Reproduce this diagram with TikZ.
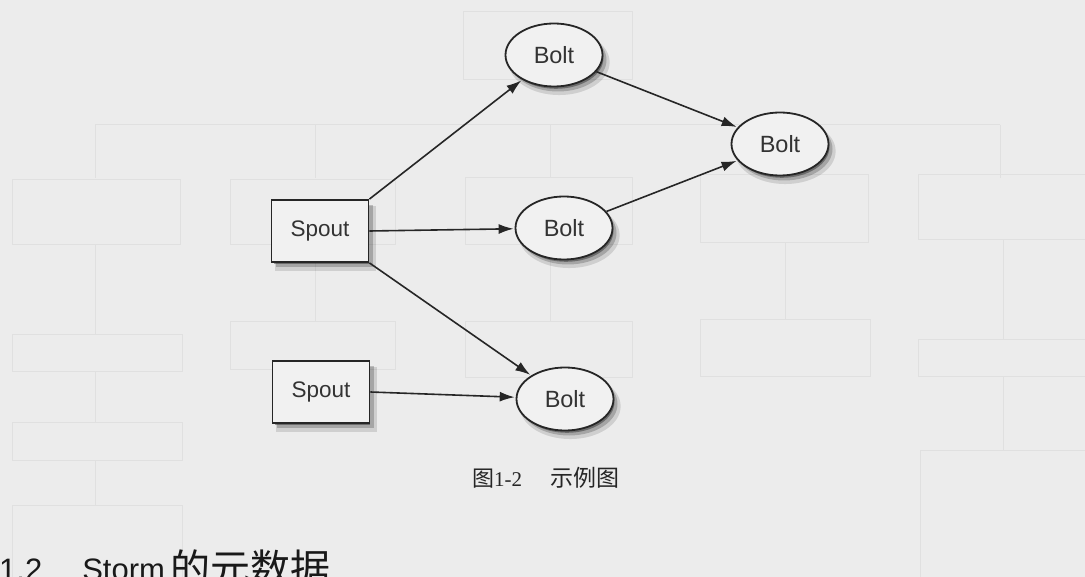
\documentclass[tikz,border=0pt]{standalone}
\usepackage{fontspec}
\setmainfont{Liberation Sans}
\newfontfamily\cjk{Noto Sans CJK SC}
\newfontfamily\serifnum{Liberation Serif}
\usetikzlibrary{shapes.geometric,shadows,arrows.meta}
\definecolor{paper}{gray}{0.925}
\definecolor{ghost}{gray}{0.88}
\definecolor{shapefill}{gray}{0.945}
\tikzset{
  ghostbox/.style={draw=ghost, line width=1pt},
  ghostline/.style={draw=ghost, line width=1pt},
  shd/.style={
    drop shadow={shadow xshift=5pt, shadow yshift=-7pt, opacity=0.12, fill=black, shadow scale=1.04},
    drop shadow={shadow xshift=4pt, shadow yshift=-5pt, opacity=0.2, fill=black},
    drop shadow={shadow xshift=2pt, shadow yshift=-3pt, opacity=0.35, fill=black, shadow scale=0.98}},
  spoutbox/.style={draw=black!85, line width=1.8pt, fill=shapefill, minimum width=97pt, minimum height=62pt, font=\fontsize{22.5}{26}\selectfont, text=black!80, shd},
  boltell/.style={ellipse, draw=black!85, line width=1.8pt, fill=shapefill, minimum width=97pt, minimum height=63pt, inner sep=0pt, font=\fontsize{23.5}{26}\selectfont, text=black!80, shd},
  flow/.style={draw=black!85, line width=1.6pt, -{Latex[length=15pt,width=10pt]}, shorten >=1pt},
}
\begin{document}
\begin{tikzpicture}[x=1pt,y=-1pt]
\useasboundingbox (0,0) rectangle (1085,577);
\fill[paper] (0,0) rectangle (1085,577);
% faint show-through from the reverse page
\draw[ghostbox] (463,12) rectangle (632,80);
\draw[ghostline] (95,125) -- (1000,125);
\foreach \gx in {95,315,550,780,1000}{\draw[ghostline] (\gx,125) -- (\gx,178);}
\draw[ghostbox] (12,180) rectangle (180,245);
\draw[ghostbox] (230,180) rectangle (395,245);
\draw[ghostbox] (465,178) rectangle (632,245);
\draw[ghostbox] (700,175) rectangle (868,243);
\draw[ghostbox] (918,175) rectangle (1085,240);
\draw[ghostline] (95,245) -- (95,335);
\draw[ghostline] (315,245) -- (315,322);
\draw[ghostline] (550,245) -- (550,322);
\draw[ghostline] (785,243) -- (785,320);
\draw[ghostline] (1003,240) -- (1003,340);
\draw[ghostbox] (12,335) rectangle (182,372);
\draw[ghostbox] (230,322) rectangle (395,370);
\draw[ghostbox] (465,322) rectangle (632,378);
\draw[ghostbox] (700,320) rectangle (870,377);
\draw[ghostbox] (918,340) rectangle (1085,377);
\draw[ghostline] (95,372) -- (95,422);
\draw[ghostbox] (12,422) rectangle (182,460);
\draw[ghostline] (95,460) -- (95,505);
\draw[ghostbox] (12,505) rectangle (182,590);
\draw[ghostline] (1003,377) -- (1003,450);
\draw[ghostbox] (920,450) rectangle (1085,590);
% main diagram
\node[spoutbox] (s1) at (320,231) {Spout};
\node[spoutbox] (s2) at (321,392) {Spout};
\node[boltell] (b1) at (554,55) {Bolt};
\node[boltell] (b2) at (564,228) {Bolt};
\node[boltell] (b3) at (565,399) {Bolt};
\node[boltell] (b4) at (780,144) {Bolt};
\draw[flow] (s1.north east) -- (b1);
\draw[flow] (s1.east) -- (b2);
\draw[flow] (s1.south east) -- (b3);
\draw[flow] (s2.east) -- (b3);
\draw[flow] (b1) -- (b4);
\draw[flow] (b2) -- (b4);
% caption and heading
\node[anchor=base west, inner sep=0pt, text=black!85] (cap) at (472,486) {{\fontsize{22}{24}\selectfont\cjk 图}{\fontsize{21}{24}\selectfont\serifnum 1-2}\hspace{28pt}{\fontsize{23}{24}\selectfont\cjk 示例图}};
\node[anchor=base west, inner sep=0pt, font=\fontsize{31}{36}\selectfont, text=black!90] (head) at (-1,580) {1.2\hspace{40pt}Storm\hspace{6pt}\raisebox{-3pt}{\fontsize{40}{44}\selectfont\cjk 的元数据}};
\end{tikzpicture}
\end{document}
